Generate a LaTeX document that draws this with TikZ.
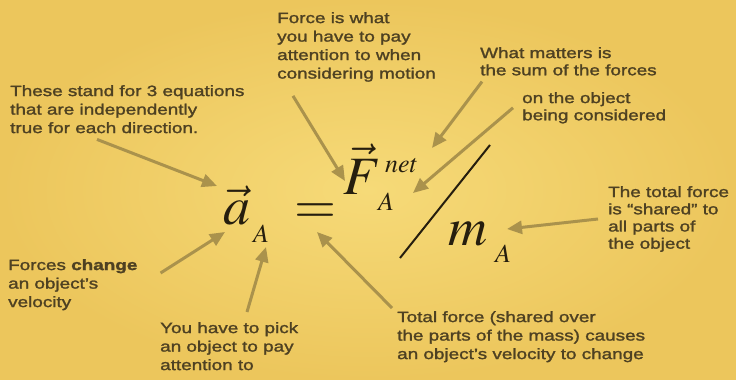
\documentclass[tikz,border=0pt]{standalone}
\usepackage{mathptmx}
\usepackage[no-math]{fontspec}
\setmainfont{Liberation Sans}[FakeStretch=1.26, FakeBold=1.6]
\usetikzlibrary{arrows.meta}
\DeclareMathSizes{54}{54}{28}{20}
\DeclareMathSizes{26}{26}{18}{14}
\definecolor{paper}{RGB}{236,198,92}
\definecolor{paperlight}{RGB}{246,218,120}
\definecolor{ink}{RGB}{78,65,34}
\definecolor{arrowtan}{RGB}{170,146,76}
\definecolor{eqink}{RGB}{38,30,14}

\begin{document}
\begin{tikzpicture}[x=1pt, y=-1pt,
  note/.style={anchor=north west, inner sep=0pt, align=left, text=ink, font=\fontsize{15}{18.5}\selectfont},
  eq/.style={anchor=base west, inner sep=0pt, text=eqink, font=\fontsize{54}{56}\selectfont},
  eqscript/.style={anchor=base west, inner sep=0pt, text=eqink, font=\fontsize{26}{28}\selectfont},
  pointer/.style={draw=arrowtan, line width=3pt, -{Triangle[length=15pt,width=13pt]}}]
  % paper background
  \useasboundingbox (0,0) rectangle (736,380);
  \shade[inner color=paperlight, outer color=paper] (0,0) rectangle (736,380);
  % the equation
  \node[eq] (accel) at (223,224) {$\vec{a}$};
  \node[eqscript] (accelSub) at (253,242) {$A$};
  \node[eq] (equals) at (294,223) {$=$};
  \node[eq] (force) at (343,194) {$\vec{F}$};
  \node[eqscript] (forceNet) at (385,172) {$net$};
  \node[eqscript] (forceSub) at (378,210) {$A$};
  \node[eq] (mass) at (448,245) {$m$};
  \node[eqscript] (massSub) at (495,262) {$A$};
  \draw[eqink, line width=2pt] (490,145) -- (400,258);
  % notes round the equation
  \node[note] (noteDirs) at (10,85) {These stand for 3 equations\\that are independently\\true for each direction.};
  \node[note] (noteForce) at (277,12) {Force is what\\you have to pay\\attention to when\\considering motion};
  \node[note, font=\fontsize{15}{17.2}\selectfont] (noteSum) at (480,47) {What matters is\\the sum of the forces};
  \node[note, font=\fontsize{15}{17.2}\selectfont] (noteObj) at (522,92) {on the object\\being considered};
  \node[note, font=\fontsize{15}{17.2}\selectfont] (noteShared) at (608,186) {The total force\\is ``shared'' to\\all parts of\\the object};
  \node[note] (noteChange) at (8,259) {Forces \textbf{change}\\an object’s\\velocity};
  \node[note] (notePick) at (160,322) {You have to pick\\an object to pay\\attention to};
  \node[note] (noteTotal) at (397,311) {Total force (shared over\\the parts of the mass) causes\\an object’s velocity to change};
  % arrows from the notes
  \draw[pointer] ([shift={(87,6)}]noteDirs.south west) -- ([shift={(-6,-38)}]accel.base west);
  \draw[pointer] ([shift={(16,14)}]noteForce.south west) -- ([shift={(2,-13)}]force.base west);
  \draw[pointer] ([shift={(2,6)}]noteSum.south west) -- ([shift={(47,-24)}]forceNet.base west);
  \draw[pointer] ([shift={(-9,0)}]noteObj.west) -- ([shift={(35,-17)}]forceSub.base west);
  \draw[pointer] ([shift={(-10,0)}]noteShared.west) -- ([shift={(12,-33)}]massSub.base west);
  \draw[pointer] ([shift={(23,14)}]noteChange.north east) -- ([shift={(2,8)}]accel.base west);
  \draw[pointer] ([shift={(87,-10)}]notePick.north west) -- ([shift={(13,5)}]accelSub.base west);
  \draw[pointer] ([shift={(-5,-3)}]noteTotal.north west) -- ([shift={(23,9)}]equals.base west);
\end{tikzpicture}
\end{document}
